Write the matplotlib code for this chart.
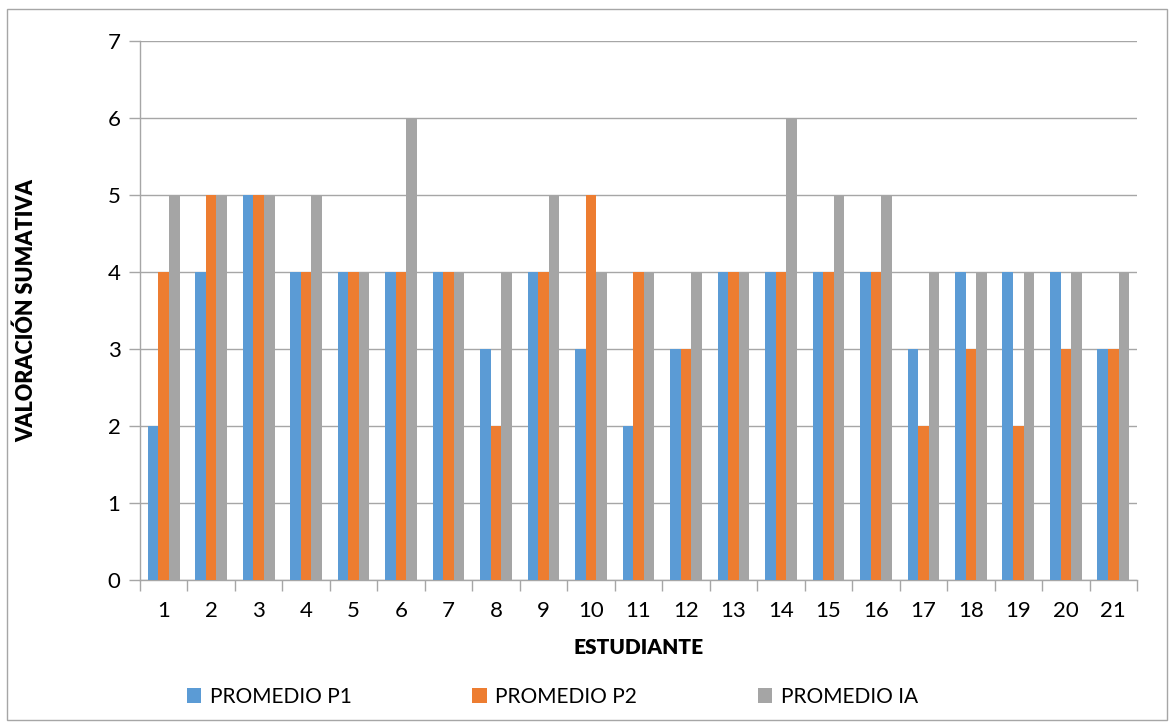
import numpy as np
import matplotlib
matplotlib.use("Agg")
import matplotlib.pyplot as plt
from matplotlib.patches import Rectangle

plt.rcParams["font.family"] = ["Lato", "DejaVu Sans"]

estudiantes = [str(i) for i in range(1, 22)]
promedio_p1 = [2, 4, 5, 4, 4, 4, 4, 3, 4, 3, 2, 3, 4, 4, 4, 4, 3, 4, 4, 4, 3]
promedio_p2 = [4, 5, 5, 4, 4, 4, 4, 2, 4, 5, 4, 3, 4, 4, 4, 4, 2, 3, 2, 3, 3]
promedio_ia = [5, 5, 5, 5, 4, 6, 4, 4, 5, 4, 4, 4, 4, 6, 5, 5, 4, 4, 4, 4, 4]

series = [
    ("PROMEDIO P1", promedio_p1, "#5B9BD5"),
    ("PROMEDIO P2", promedio_p2, "#ED7D31"),
    ("PROMEDIO IA", promedio_ia, "#A5A5A5"),
]

grid_c = "#A6A6A6"

fig = plt.figure(figsize=(11.7, 7.23), dpi=100)
ax = fig.add_axes([140 / 1170, 1 - 580 / 723, (1137 - 140) / 1170, (580 - 41) / 723])

x = np.arange(len(estudiantes))
w = 1 / 4.5
handles = []
for k, (name, vals, col) in enumerate(series):
    b = ax.bar(x + (k - 1) * w, vals, width=w, color=col, label=name, zorder=3)
    handles.append(b)

ax.set_xlim(-0.5, len(estudiantes) - 0.5)
ax.set_ylim(0, 7)
ax.set_yticks(range(0, 8))
ax.yaxis.grid(True, color=grid_c, lw=1.0, zorder=0)
ax.set_axisbelow(True)

# category labels centred, tick marks on the boundaries
ax.set_xticks(x)
ax.set_xticklabels(estudiantes)
ax.set_xticks(np.arange(-0.5, len(estudiantes)), minor=True)
ax.tick_params(axis="x", which="major", length=0, labelsize=16, pad=15)
ax.tick_params(axis="x", which="minor", length=8, color=grid_c, width=1)
ax.tick_params(axis="y", length=8, color=grid_c, width=1, labelsize=16, pad=6)

for s in ("top", "right"):
    ax.spines[s].set_visible(False)
for s in ("left", "bottom"):
    ax.spines[s].set_color(grid_c)
    ax.spines[s].set_linewidth(1)

ax.set_xlabel("ESTUDIANTE", fontsize=15, fontweight="heavy", labelpad=12)
ax.set_ylabel("VALORACIÓN SUMATIVA", fontsize=15.5, fontweight="heavy")
ax.yaxis.set_label_coords(-103 / 997, 0.5)

fig.legend(handles=handles, loc="center", bbox_to_anchor=(0.472, 1 - 697 / 723),
           ncol=3, frameon=False, fontsize=15, handlelength=0.7, handleheight=0.7,
           handletextpad=0.4, columnspacing=5.8)

fig.patches.append(Rectangle((7 / 1170, 1 - 720 / 723), 1160 / 1170, 711 / 723,
                             transform=fig.transFigure, fill=False,
                             edgecolor=grid_c, lw=1))

fig.savefig("out.png", dpi=100)
